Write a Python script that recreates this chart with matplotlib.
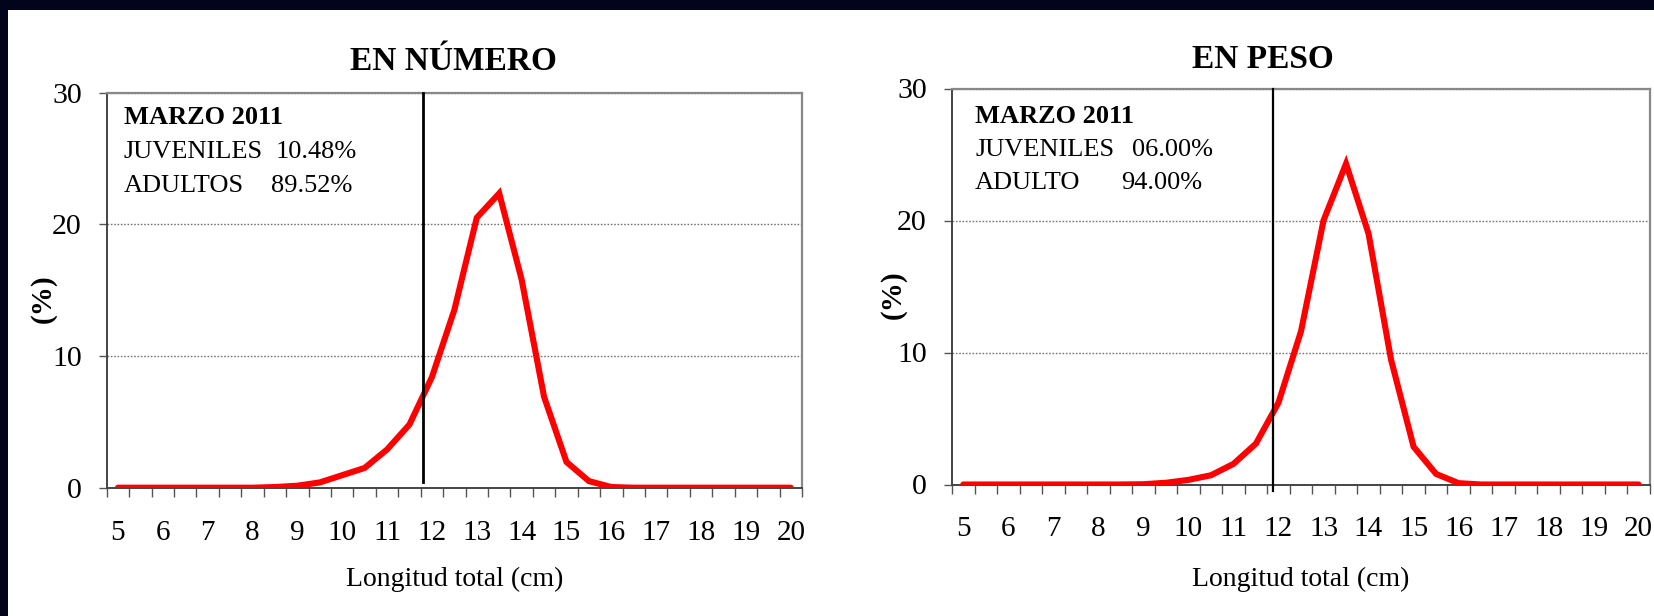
import matplotlib
matplotlib.use("Agg")
import matplotlib.pyplot as plt
from matplotlib.patches import Rectangle
from matplotlib.ticker import FixedLocator

# talla (cm), cada 0.5 cm
tallas = [5, 5.5, 6, 6.5, 7, 7.5, 8, 8.5, 9, 9.5, 10, 10.5, 11, 11.5, 12, 12.5,
          13, 13.5, 14, 14.5, 15, 15.5, 16, 16.5, 17, 17.5, 18, 18.5, 19, 19.5, 20]

# frecuencia en numero (%)
en_numero = [0, 0, 0, 0, 0, 0, 0, 0.05, 0.15, 0.4, 0.95, 1.5, 2.9, 4.8, 8.4, 13.5,
             20.5, 22.35, 15.8, 6.9, 1.95, 0.5, 0.05, 0, 0, 0, 0, 0, 0, 0, 0]

# frecuencia en peso (%)
en_peso = [0, 0, 0, 0, 0, 0, 0, 0, 0.02, 0.13, 0.35, 0.7, 1.56, 3.1, 6.2, 11.6,
           20.0, 24.3, 19.0, 9.45, 2.86, 0.8, 0.1, 0, 0, 0, 0, 0, 0, 0, 0]

x_labels = [5, 6, 7, 8, 9, 10, 11, 12, 13, 14, 15, 16, 17, 18, 19, 20]
y_ticks = [0, 10, 20, 30]

# talla de madurez (linea vertical) y su extension en y
madurez_x = [11.8, 11.87]
madurez_y0 = [0.45, -0.5]

titulos = ["EN NÚMERO", "EN PESO"]
juveniles = ["10.48%", "06.00%"]
adultos_lbl = ["ADULTOS", "ADULTO"]
adultos = ["89.52%", "94.00%"]

W, H = 1654, 616
plt.rcParams['font.family'] = ['Liberation Serif', 'DejaVu Serif']

fig = plt.figure(figsize=(W / 100, H / 100), dpi=100)
fig.patch.set_facecolor('#02041c')
# white slide area (dark frame only shows on top and left)
bg = fig.add_axes([0, 0, 1, 1], zorder=-10)
bg.add_patch(Rectangle((7.5 / W, 0), 1, (H - 10) / H, transform=bg.transAxes,
                       facecolor='white', edgecolor='none'))
bg.set_axis_off()


def px(x, y):
    return x / W, 1 - y / H


# axes boxes in pixels: left, right, top, bottom
boxes = [(106.7, 802, 92.6, 487.7), (952, 1650, 88.5, 484.5)]
series = [en_numero, en_peso]
title_pos = [(453, 62), (1263, 60)]
ylab_pos = [(43, 299), (893, 295)]
text_x = [(123.5, 276, 271), (975, 1132, 1121)]
text_y = [(118, 152, 185.5), (116.7, 150, 183)]
vline_w = [2.0, 1.6]

for i in range(2):
    l, r, t, b = boxes[i]
    ax = fig.add_axes([l / W, (H - b) / H, (r - l) / W, (b - t) / H])
    ax.set_facecolor('none')
    ax.plot(tallas, series[i], color='#ff0000', lw=4.4, solid_capstyle='round',
            solid_joinstyle='miter', zorder=4)
    ax.plot([madurez_x[i], madurez_x[i]], [madurez_y0[i], 30], color='black',
            lw=vline_w[i], zorder=5, clip_on=False)

    ax.set_xlim(4.75, 20.25)
    ax.set_ylim(0, 30)
    ax.xaxis.set_major_locator(FixedLocator(x_labels))
    ax.set_xticklabels([str(v) for v in x_labels], fontsize=21)
    ax.xaxis.set_minor_locator(FixedLocator([4.75 + 0.5 * k for k in range(32)]))
    ax.tick_params(axis='x', which='major', length=0, pad=23)
    ax.tick_params(axis='x', which='minor', length=6.5, width=1, color='#555555', direction='out')
    ax.set_yticks(y_ticks)
    ax.set_yticklabels([str(v) for v in y_ticks], fontsize=21.5)
    ax.tick_params(axis='y', length=6, width=1, color='#555555', pad=12)

    ax.grid(axis='y', color='#777777', lw=1, linestyle=(0, (1.2, 1.2)))
    for s in ['top', 'right']:
        ax.spines[s].set_color('#888888')
        ax.spines[s].set_linewidth(1.6)
    for s in ['left', 'bottom']:
        ax.spines[s].set_color('#444444')
        ax.spines[s].set_linewidth(1.4)

    fig.text(*px(*title_pos[i]), titulos[i], ha='center', va='center',
             fontsize=24, fontweight='bold')
    fig.text(*px(*ylab_pos[i]), "(%)", ha='center', va='center', rotation=90,
             fontsize=21, fontweight='bold')
    fig.text(*px((l + r) / 2, 579), "Longitud total (cm)", ha='center', va='center',
             fontsize=20)

    tx, vx1, vx2 = text_x[i]
    ty1, ty2, ty3 = text_y[i]
    fig.text(*px(tx, ty1), "MARZO 2011", ha='left', va='center', fontsize=19,
             fontweight='bold')
    fig.text(*px(tx, ty2), "JUVENILES", ha='left', va='center', fontsize=19)
    fig.text(*px(vx1, ty2), juveniles[i], ha='left', va='center', fontsize=19)
    fig.text(*px(tx, ty3), adultos_lbl[i], ha='left', va='center', fontsize=19)
    fig.text(*px(vx2, ty3), adultos[i], ha='left', va='center', fontsize=19)

fig.savefig("out.png", dpi=100, facecolor=fig.get_facecolor())
